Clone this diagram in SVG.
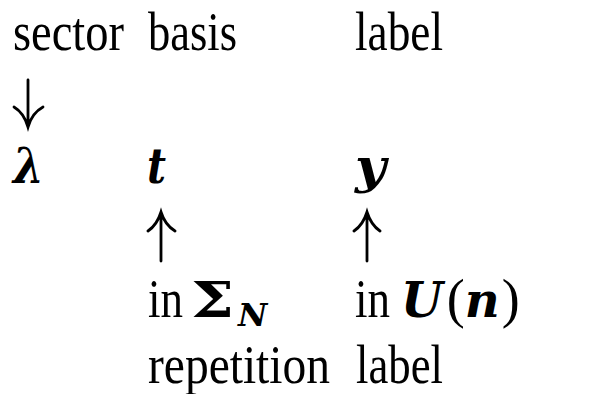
<svg xmlns="http://www.w3.org/2000/svg" width="608" height="394" viewBox="0 0 608 394">
<style>
text{font-family:"Liberation Serif","DejaVu Serif",serif;font-size:54px;fill:#000}
.m{font-family:"DejaVu Serif",serif;font-weight:bold;font-style:italic;font-size:48px}
.b{font-family:"DejaVu Serif",serif;font-weight:bold;font-size:48px}
.s{font-size:32px}
.ar{fill:none;stroke:#000;stroke-width:2.8;stroke-linecap:round}
</style>
<rect width="608" height="394" fill="#fff"/>
<g id="header">
<text x="13" y="50" textLength="111" lengthAdjust="spacingAndGlyphs">sector</text>
<text x="148" y="50" textLength="89" lengthAdjust="spacingAndGlyphs">basis</text>
<text x="355" y="50" textLength="88" lengthAdjust="spacingAndGlyphs">label</text>
</g>
<g id="lambda"><text class="m" x="13" y="183" textLength="31" lengthAdjust="spacingAndGlyphs">λ</text></g>
<g id="t"><text class="m" x="147" y="183" textLength="19" lengthAdjust="spacingAndGlyphs">t</text></g>
<g id="y"><text class="m" x="355" y="183" textLength="31" lengthAdjust="spacingAndGlyphs">y</text></g>
<g id="sigma">
<text x="148" y="317" textLength="35" lengthAdjust="spacingAndGlyphs">in</text>
<text class="b" x="191" y="317" textLength="43" lengthAdjust="spacingAndGlyphs">Σ</text>
<text class="m s" x="238" y="326">N</text>
</g>
<g id="un">
<text x="355" y="317" textLength="35" lengthAdjust="spacingAndGlyphs">in</text>
<text x="401" y="317"><tspan class="m">U</tspan><tspan dx="4">(</tspan><tspan class="m">n</tspan><tspan dx="2">)</tspan></text>
</g>
<g id="footer">
<text x="148" y="383" textLength="182" lengthAdjust="spacingAndGlyphs">repetition</text>
<text x="356" y="383" textLength="87" lengthAdjust="spacingAndGlyphs">label</text>
</g>
<g id="connectors">
<path class="ar" d="M28 80V125M14 107Q24 113 28 127Q32 113 43 107"/>
<path class="ar" d="M161 261V214M148 231Q157 225 161 212Q165 225 175 231"/>
<path class="ar" d="M367 261V214M354 231Q363 225 367 212Q371 225 380 231"/>
</g>
</svg>
